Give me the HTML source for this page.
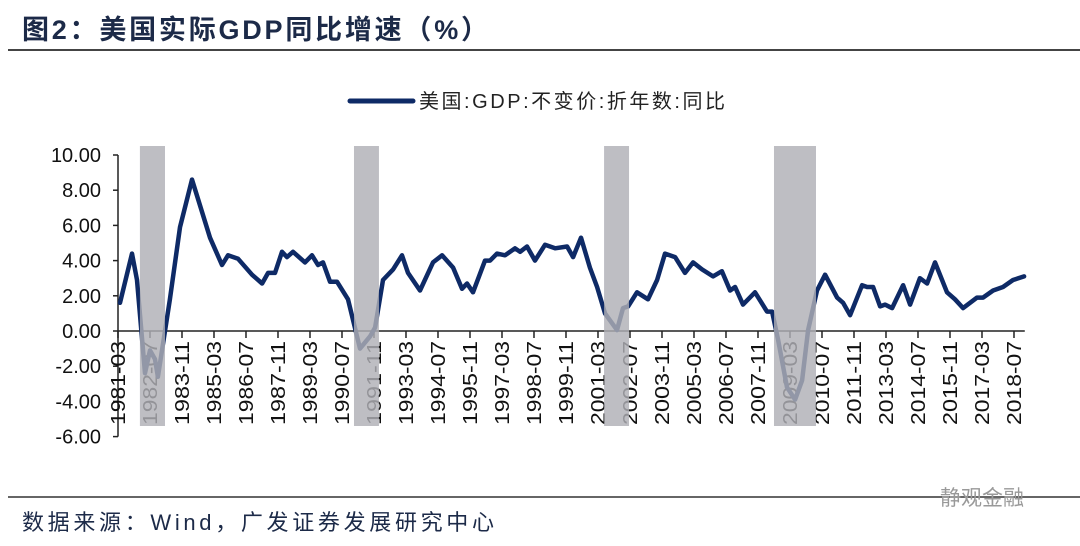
<!DOCTYPE html>
<html><head><meta charset="utf-8"><style>
html,body{margin:0;padding:0;background:#fff;width:1080px;height:546px;overflow:hidden}
svg{display:block}
text{font-family:"Liberation Sans","Noto Sans CJK SC",sans-serif}
</style></head><body>
<svg id="chart" width="1080" height="546">
<text x="22" y="39" font-size="27" font-weight="bold" fill="#1c2a48" textLength="466" lengthAdjust="spacing">图2：美国实际GDP同比增速（%）</text>
<line x1="8" y1="50" x2="1080" y2="50" stroke="#444" stroke-width="2"/>
<g>
<line x1="350" y1="101" x2="413" y2="101" stroke="#0e2a66" stroke-width="5" stroke-linecap="round"/>
<text x="419" y="108" font-size="20" fill="#222" textLength="306" lengthAdjust="spacing">美国:GDP:不变价:折年数:同比</text>
</g>
<g id="yaxis"></g>
<g id="xaxis"></g>
<g id="series"></g>
<g id="bands"></g>
<line x1="8" y1="497" x2="1080" y2="497" stroke="#333" stroke-width="1.5"/>
<text x="22" y="530" font-size="22" fill="#1c2a48" textLength="472" lengthAdjust="spacing">数据来源：Wind，广发证券发展研究中心</text>
<text x="940" y="505" font-size="21" fill="#999">静观金融</text>
</svg>
<script>
const yTicks=[10,8,6,4,2,0,-2,-4,-6];
const xLabels=["1981-03","1982-07","1983-11","1985-03","1986-07","1987-11","1989-03","1990-07","1991-11","1993-03","1994-07","1995-11","1997-03","1998-07","1999-11","2001-03","2002-07","2003-11","2005-03","2006-07","2007-11","2009-03","2010-07","2011-11","2013-03","2014-07","2015-11","2017-03","2018-07"];
const dates=[1981.25,1981.75,1981.96,1982.29,1982.5,1982.71,1982.83,1983.33,1983.75,1984.25,1985.0,1985.5,1985.75,1986.17,1986.75,1987.17,1987.42,1987.71,1988.0,1988.21,1988.46,1988.96,1989.25,1989.5,1989.71,1990.0,1990.29,1990.75,1991.25,1991.67,1991.88,1992.21,1992.63,1993.0,1993.25,1993.75,1994.29,1994.67,1995.13,1995.5,1995.71,1995.96,1996.46,1996.67,1996.96,1997.29,1997.71,1997.92,1998.21,1998.54,1998.96,1999.38,1999.88,2000.13,2000.46,2000.83,2001.13,2001.46,2001.96,2002.21,2002.42,2002.79,2003.25,2003.63,2003.96,2004.38,2004.79,2005.13,2005.5,2005.96,2006.33,2006.67,2006.88,2007.21,2007.71,2008.21,2008.42,2008.67,2009.04,2009.38,2009.67,2009.92,2010.29,2010.63,2011.13,2011.38,2011.67,2012.17,2012.38,2012.63,2012.92,2013.13,2013.42,2013.88,2014.17,2014.58,2014.88,2015.21,2015.71,2016.04,2016.38,2016.96,2017.21,2017.63,2018.04,2018.46,2018.92];
const values=[1.6,4.4,2.9,-2.4,-1.1,-1.6,-2.6,1.8,5.9,8.6,5.3,3.75,4.3,4.1,3.2,2.7,3.3,3.3,4.5,4.2,4.5,3.9,4.3,3.75,3.9,2.8,2.8,1.8,-1.0,-0.3,0.2,2.9,3.5,4.3,3.3,2.3,3.9,4.3,3.6,2.4,2.7,2.2,4.0,4.0,4.4,4.3,4.7,4.5,4.8,4.0,4.9,4.7,4.8,4.2,5.3,3.6,2.5,1.0,0.05,1.3,1.4,2.2,1.8,2.9,4.4,4.2,3.3,3.9,3.5,3.1,3.4,2.3,2.5,1.5,2.2,1.1,1.1,-0.5,-3.2,-3.9,-2.8,0.05,2.3,3.2,1.9,1.6,0.9,2.6,2.5,2.5,1.4,1.5,1.3,2.6,1.5,3.0,2.7,3.9,2.2,1.8,1.3,1.9,1.9,2.3,2.5,2.9,3.1];
const recStart=[1982.08,1991.0,2001.42,2008.5];
const recEnd=[1983.125,1992.04,2002.46,2010.25];

const NS="http://www.w3.org/2000/svg";
const X0=118,Y0=331,PXY=17.6;
function xs(t){return X0+(t-1981.167)*24;}
function ys(v){return Y0-v*PXY;}
function lab(s){const p=s.split("-");return +p[0]+(+p[1]-1)/12;}
function mk(tag,attrs,parent){const e=document.createElementNS(NS,tag);for(const k in attrs)e.setAttribute(k,attrs[k]);parent.appendChild(e);return e;}

const ya=document.getElementById("yaxis");
const yl=mk("line",{x1:X0,y1:ys(10),x2:X0,y2:ys(-6),stroke:"#222","stroke-width":1.5},ya);


yTicks.forEach(v=>{
 const t=mk("line",{x1:X0-5,y1:ys(v),x2:X0,y2:ys(v),stroke:"#222","stroke-width":1.5},ya);
 
 
 const tx=mk("text",{x:101,y:ys(v)+7,"font-size":20,"text-anchor":"end",fill:"#111"},ya);
 tx.textContent=v.toFixed(2);
 
 
});

const xa=document.getElementById("xaxis");
const zl=mk("line",{x1:X0,y1:Y0,x2:xs(2018.95),y2:Y0,stroke:"#222","stroke-width":1.5},xa);


xLabels.forEach(s=>{
 const x=xs(lab(s));
 const t=mk("line",{x1:x,y1:Y0,x2:x,y2:Y0+7,stroke:"#222","stroke-width":1.5},xa);
 
 
 const tx=mk("text",{x:0,y:0,"font-size":20,"text-anchor":"end",fill:"#111",textLength:84,lengthAdjust:"spacingAndGlyphs",transform:`translate(${x+7},${Y0+10}) rotate(-90)`},xa);
 tx.textContent=s;
 
 
});

const sg=document.getElementById("series");
let d="";dates.forEach((t,i)=>{d+=(i?"L":"M")+xs(t).toFixed(1)+","+ys(values[i]).toFixed(1);});
const pl=mk("path",{d:d,fill:"none",stroke:"#0e2a66","stroke-width":4.5,"stroke-linejoin":"round","stroke-linecap":"round"},sg);



const bg=document.getElementById("bands");
recStart.forEach((s,i)=>{
 const r=mk("rect",{x:xs(s),y:146,width:xs(recEnd[i])-xs(s),height:280,fill:"#b0b0b6","fill-opacity":0.82},bg);
 
 
});
</script>
</body></html>
